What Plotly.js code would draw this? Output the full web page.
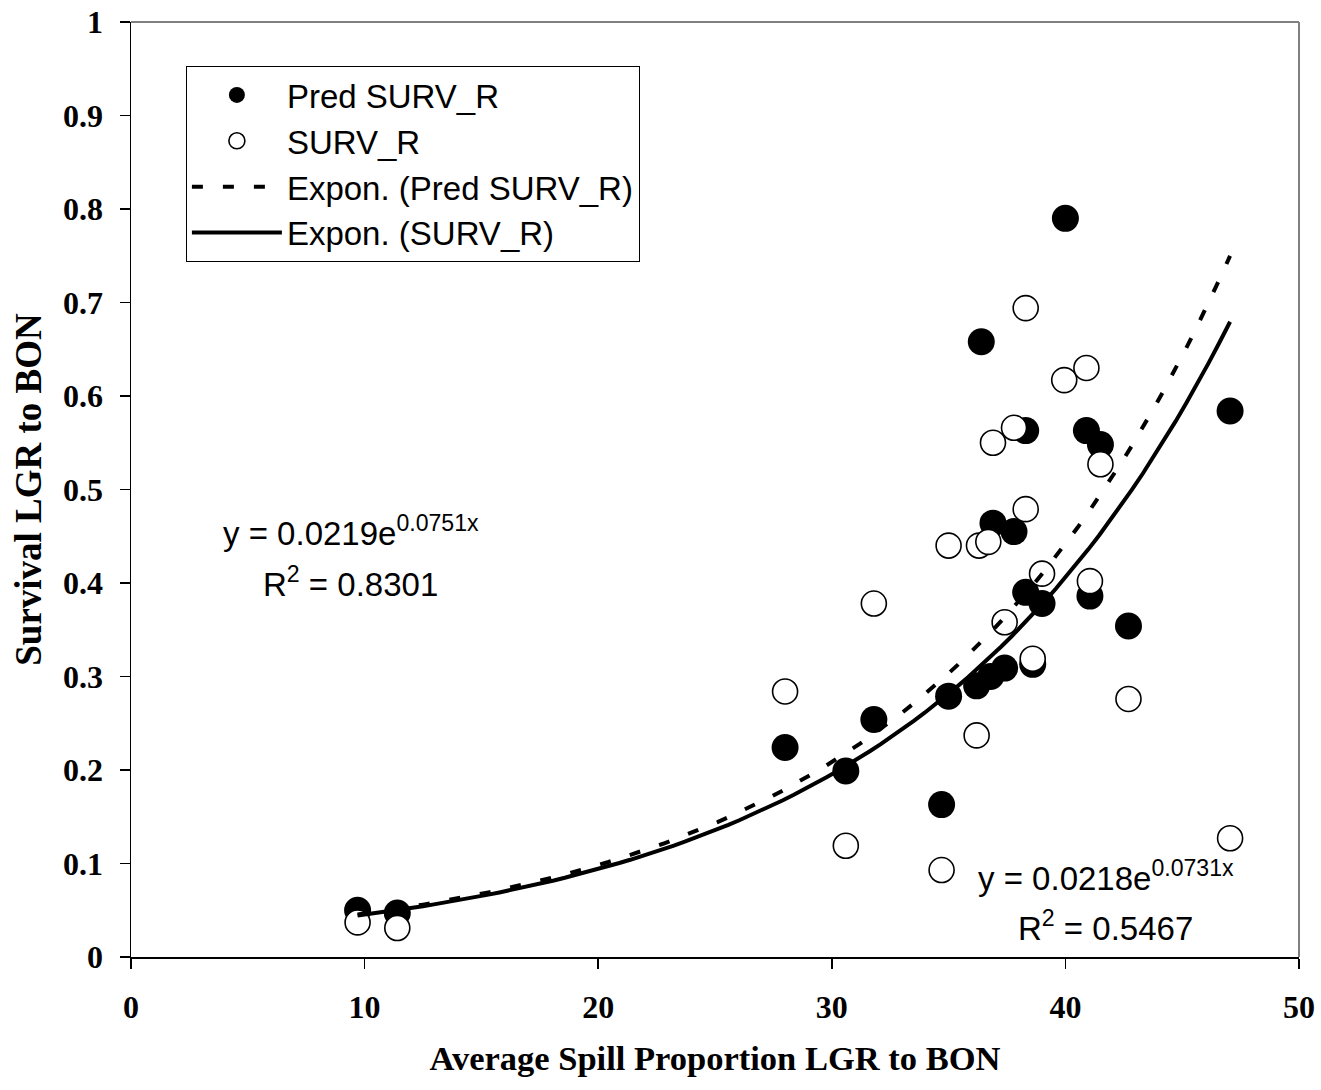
<!DOCTYPE html>
<html>
<head>
<meta charset="utf-8">
<script src="https://cdn.plot.ly/plotly-3.0.1.min.js"></script>
<style>html,body{margin:0;padding:0;background:#fff;}#chart{width:1321px;height:1090px;}</style>
</head>
<body>
<div id="chart"></div>
<script>
// Predicted survival (filled circles)
const predSpill = [9.7, 11.4, 28.0, 30.6, 31.8, 34.7, 35.0, 36.2, 36.4, 36.8, 36.9, 37.4, 37.8, 38.3, 38.3, 38.6, 39.0, 40.0, 40.9, 41.05, 41.5, 42.7, 47.05];
const predSurv  = [0.050, 0.047, 0.224, 0.199, 0.254, 0.163, 0.279, 0.290, 0.658, 0.300, 0.464, 0.309, 0.455, 0.563, 0.390, 0.313, 0.378, 0.790, 0.563, 0.386, 0.548, 0.354, 0.584];
// Observed survival (open circles)
const obsSpill = [9.7, 11.4, 28.0, 30.6, 31.8, 34.7, 35.0, 36.2, 36.3, 36.7, 36.9, 37.4, 37.8, 38.3, 38.3, 38.6, 39.0, 39.95, 40.9, 41.05, 41.5, 42.7, 47.05];
const obsSurv  = [0.037, 0.031, 0.284, 0.119, 0.378, 0.093, 0.440, 0.237, 0.440, 0.444, 0.550, 0.358, 0.566, 0.694, 0.479, 0.319, 0.410, 0.617, 0.630, 0.402, 0.527, 0.276, 0.127];
// Exponential trendline coefficients (y = a * e^(b x)) as printed on the chart
const predFit = [0.0219, 0.0751];
const obsFit  = [0.0218, 0.0731];
const predR2 = "0.8301";
const obsR2  = "0.5467";
const xTicks = [0, 10, 20, 30, 40, 50];
const yTicks = [0, 0.1, 0.2, 0.3, 0.4, 0.5, 0.6, 0.7, 0.8, 0.9, 1];

function trend(xs, fit) {
  const lo = Math.min(...xs), hi = Math.max(...xs);
  const n = 80, X = [], Y = [];
  for (let i = 0; i <= n; i++) {
    const x = lo + (hi - lo) * i / n;
    X.push(x); Y.push(fit[0] * Math.exp(fit[1] * x));
  }
  return {X, Y};
}
const tp = trend(predSpill, predFit);
const to = trend(obsSpill, obsFit);

const serif = "Liberation Serif, Times New Roman, serif";
const sans = "Liberation Sans, Arial, sans-serif";

const traces = [
  {x: predSpill, y: predSurv, mode: 'markers', type: 'scatter', name: 'Pred SURV_R', legendgroup: 'a',
   marker: {symbol: 'circle', size: 27, color: '#000000', line: {width: 0}}},
  {x: obsSpill, y: obsSurv, mode: 'markers', type: 'scatter', name: 'SURV_R', legendgroup: 'b',
   marker: {symbol: 'circle', size: 25, color: '#ffffff', line: {width: 1.6, color: '#000000'}}},
  {x: tp.X, y: tp.Y, mode: 'lines', type: 'scatter', name: 'Expon. (Pred SURV_R)', legendgroup: 'c',
   line: {color: '#000000', width: 4, dash: '11px,20px'}},
  {x: to.X, y: to.Y, mode: 'lines', type: 'scatter', name: 'Expon. (SURV_R)', legendgroup: 'd',
   line: {color: '#000000', width: 4}}
];

const layout = {
  width: 1321, height: 1090,
  margin: {l: 131, r: 22, t: 22, b: 133, autoexpand: false},
  paper_bgcolor: '#ffffff', plot_bgcolor: '#ffffff',
  showlegend: true,
  legend: {x: 0.047, y: 0.953, xanchor: 'left', yanchor: 'top', bgcolor: '#ffffff',
           bordercolor: '#000000', borderwidth: 1, font: {family: sans, size: 33, color: '#000'},
           tracegroupgap: 2, itemwidth: 90, traceorder: 'normal'},
  xaxis: {range: [0, 50], tickvals: xTicks, ticktext: xTicks.map(String), showgrid: false, zeroline: false,
          showline: true, linecolor: '#000', linewidth: 1.5, ticks: 'outside', ticklen: 10, tickwidth: 1.5, tickcolor: '#000',
          tickfont: {family: serif, size: 32, color: '#000', weight: 'bold'}, ticklabelstandoff: 11, fixedrange: true,
          title: {text: '<b>Average Spill Proportion LGR to BON</b>', font: {family: serif, size: 34.5, color: '#000'}, standoff: 22}},
  yaxis: {range: [0, 1], tickvals: yTicks, ticktext: yTicks.map(String), showgrid: false, zeroline: false,
          showline: true, linecolor: '#000', linewidth: 1.5, ticks: 'outside', ticklen: 10, tickwidth: 1.5, tickcolor: '#000',
          tickfont: {family: serif, size: 32, color: '#000', weight: 'bold'}, ticklabelstandoff: 10, fixedrange: true,
          title: {text: '<b>Survival LGR to BON</b>', font: {family: serif, size: 37, color: '#000'}, standoff: 10}},
  shapes: [
    {type: 'line', xref: 'paper', yref: 'paper', x0: 0, x1: 1, y0: 1, y1: 1, line: {color: '#808080', width: 2}},
    {type: 'line', xref: 'paper', yref: 'paper', x0: 1, x1: 1, y0: 0, y1: 1, line: {color: '#808080', width: 2}}
  ],
  annotations: [
    {x: 9.4, y: 0.4556, xref: 'x', yref: 'y', text: 'y = ' + predFit[0] + 'e<sup>' + predFit[1] + 'x</sup>', showarrow: false,
     xanchor: 'center', yanchor: 'middle', font: {family: sans, size: 33, color: '#000'}},
    {x: 9.4, y: 0.401, xref: 'x', yref: 'y', text: 'R<sup>2</sup> = ' + predR2, showarrow: false,
     xanchor: 'center', yanchor: 'middle', font: {family: sans, size: 33, color: '#000'}},
    {x: 41.74, y: 0.0866, xref: 'x', yref: 'y', text: 'y = ' + obsFit[0] + 'e<sup>' + obsFit[1] + 'x</sup>', showarrow: false,
     xanchor: 'center', yanchor: 'middle', font: {family: sans, size: 33, color: '#000'}},
    {x: 41.7, y: 0.033, xref: 'x', yref: 'y', text: 'R<sup>2</sup> = ' + obsR2, showarrow: false,
     xanchor: 'center', yanchor: 'middle', font: {family: sans, size: 33, color: '#000'}}
  ]
};

Plotly.newPlot('chart', traces, layout, {staticPlot: true, displayModeBar: false});
</script>
</body>
</html>
